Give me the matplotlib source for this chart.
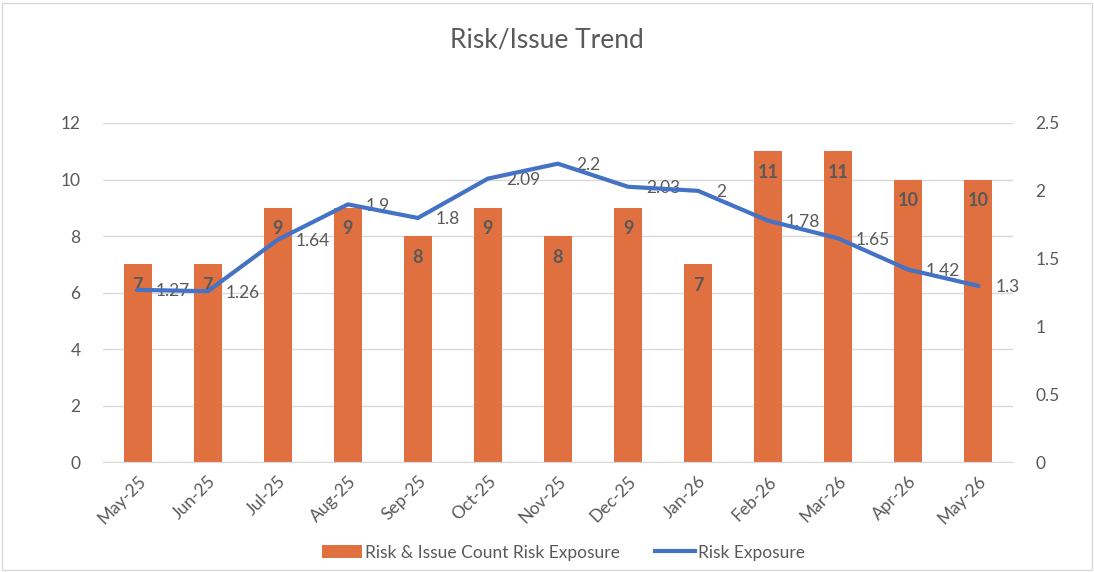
import matplotlib.pyplot as plt
from matplotlib.patches import Rectangle

plt.rcParams['font.family'] = ['Lato', 'DejaVu Sans']

months = ["May-25", "Jun-25", "Jul-25", "Aug-25", "Sep-25", "Oct-25", "Nov-25",
          "Dec-25", "Jan-26", "Feb-26", "Mar-26", "Apr-26", "May-26"]
counts = [7, 7, 9, 9, 8, 9, 8, 9, 7, 11, 11, 10, 10]
exposure = [1.27, 1.26, 1.64, 1.9, 1.8, 2.09, 2.2, 2.03, 2, 1.78, 1.65, 1.42, 1.3]

grey = "#595959"
orange = "#E07040"
blue = "#4472C4"

fig = plt.figure(figsize=(10.94, 5.72), dpi=100)
fig.patches.append(Rectangle((0.002, 0.004), 0.996, 0.99, transform=fig.transFigure,
                             fill=False, edgecolor="#D9D9D9", linewidth=1))
ax = fig.add_axes([0.094, 0.192, 0.832, 0.593])
ax2 = ax.twinx()

x = list(range(len(months)))
bars = ax.bar(x, counts, width=0.4, color=orange, zorder=2,
              label="Risk & Issue Count Risk Exposure")
for xi, c in zip(x, counts):
    ax.text(xi, c - 0.45, str(c), ha="center", va="top", fontsize=13,
            fontweight="bold", color=grey, zorder=3)

line, = ax2.plot(x, exposure, color=blue, linewidth=3, zorder=4, label="Risk Exposure")
for xi, e in zip(x, exposure):
    ax2.annotate(f"{e:g}", (xi, e), xytext=(13, -1), textcoords="offset points",
                 ha="left", va="center", fontsize=12.5, color=grey)

ax.set_xlim(-0.5, len(months) - 0.5)
ax.set_ylim(0, 12)
ax.set_yticks(range(0, 13, 2))
ax2.set_ylim(0, 2.5)
ax2.set_yticks([0, 0.5, 1, 1.5, 2, 2.5])
ax2.set_yticklabels(["0", "0.5", "1", "1.5", "2", "2.5"])

ax.grid(axis="y", color="#D9D9D9", linewidth=1, zorder=0)
ax.set_axisbelow(True)
for a in (ax, ax2):
    for s in a.spines.values():
        s.set_visible(False)
ax.spines["bottom"].set_visible(True)
ax.spines["bottom"].set_color("#D9D9D9")

ax.set_xticks(x)
ax.set_xticklabels(months, rotation=45, ha="right", rotation_mode="anchor")
ax.tick_params(axis="x", length=0, pad=8, labelsize=12.5, labelcolor=grey)
ax.tick_params(axis="y", length=0, pad=16, labelsize=12.5, labelcolor=grey)
ax2.tick_params(axis="y", length=0, pad=16, labelsize=12.5, labelcolor=grey)

fig.text(0.5, 0.93, "Risk/Issue Trend", ha="center", va="center", fontsize=19, color=grey)

fig.legend([bars, line], ["Risk & Issue Count Risk Exposure", "Risk Exposure"],
           loc="center", bbox_to_anchor=(0.515, 0.034), ncol=2, frameon=False,
           fontsize=12.5, labelcolor=grey, handlelength=2.3, handletextpad=0.2,
           columnspacing=2.0)

fig.savefig("out.png", dpi=100)
